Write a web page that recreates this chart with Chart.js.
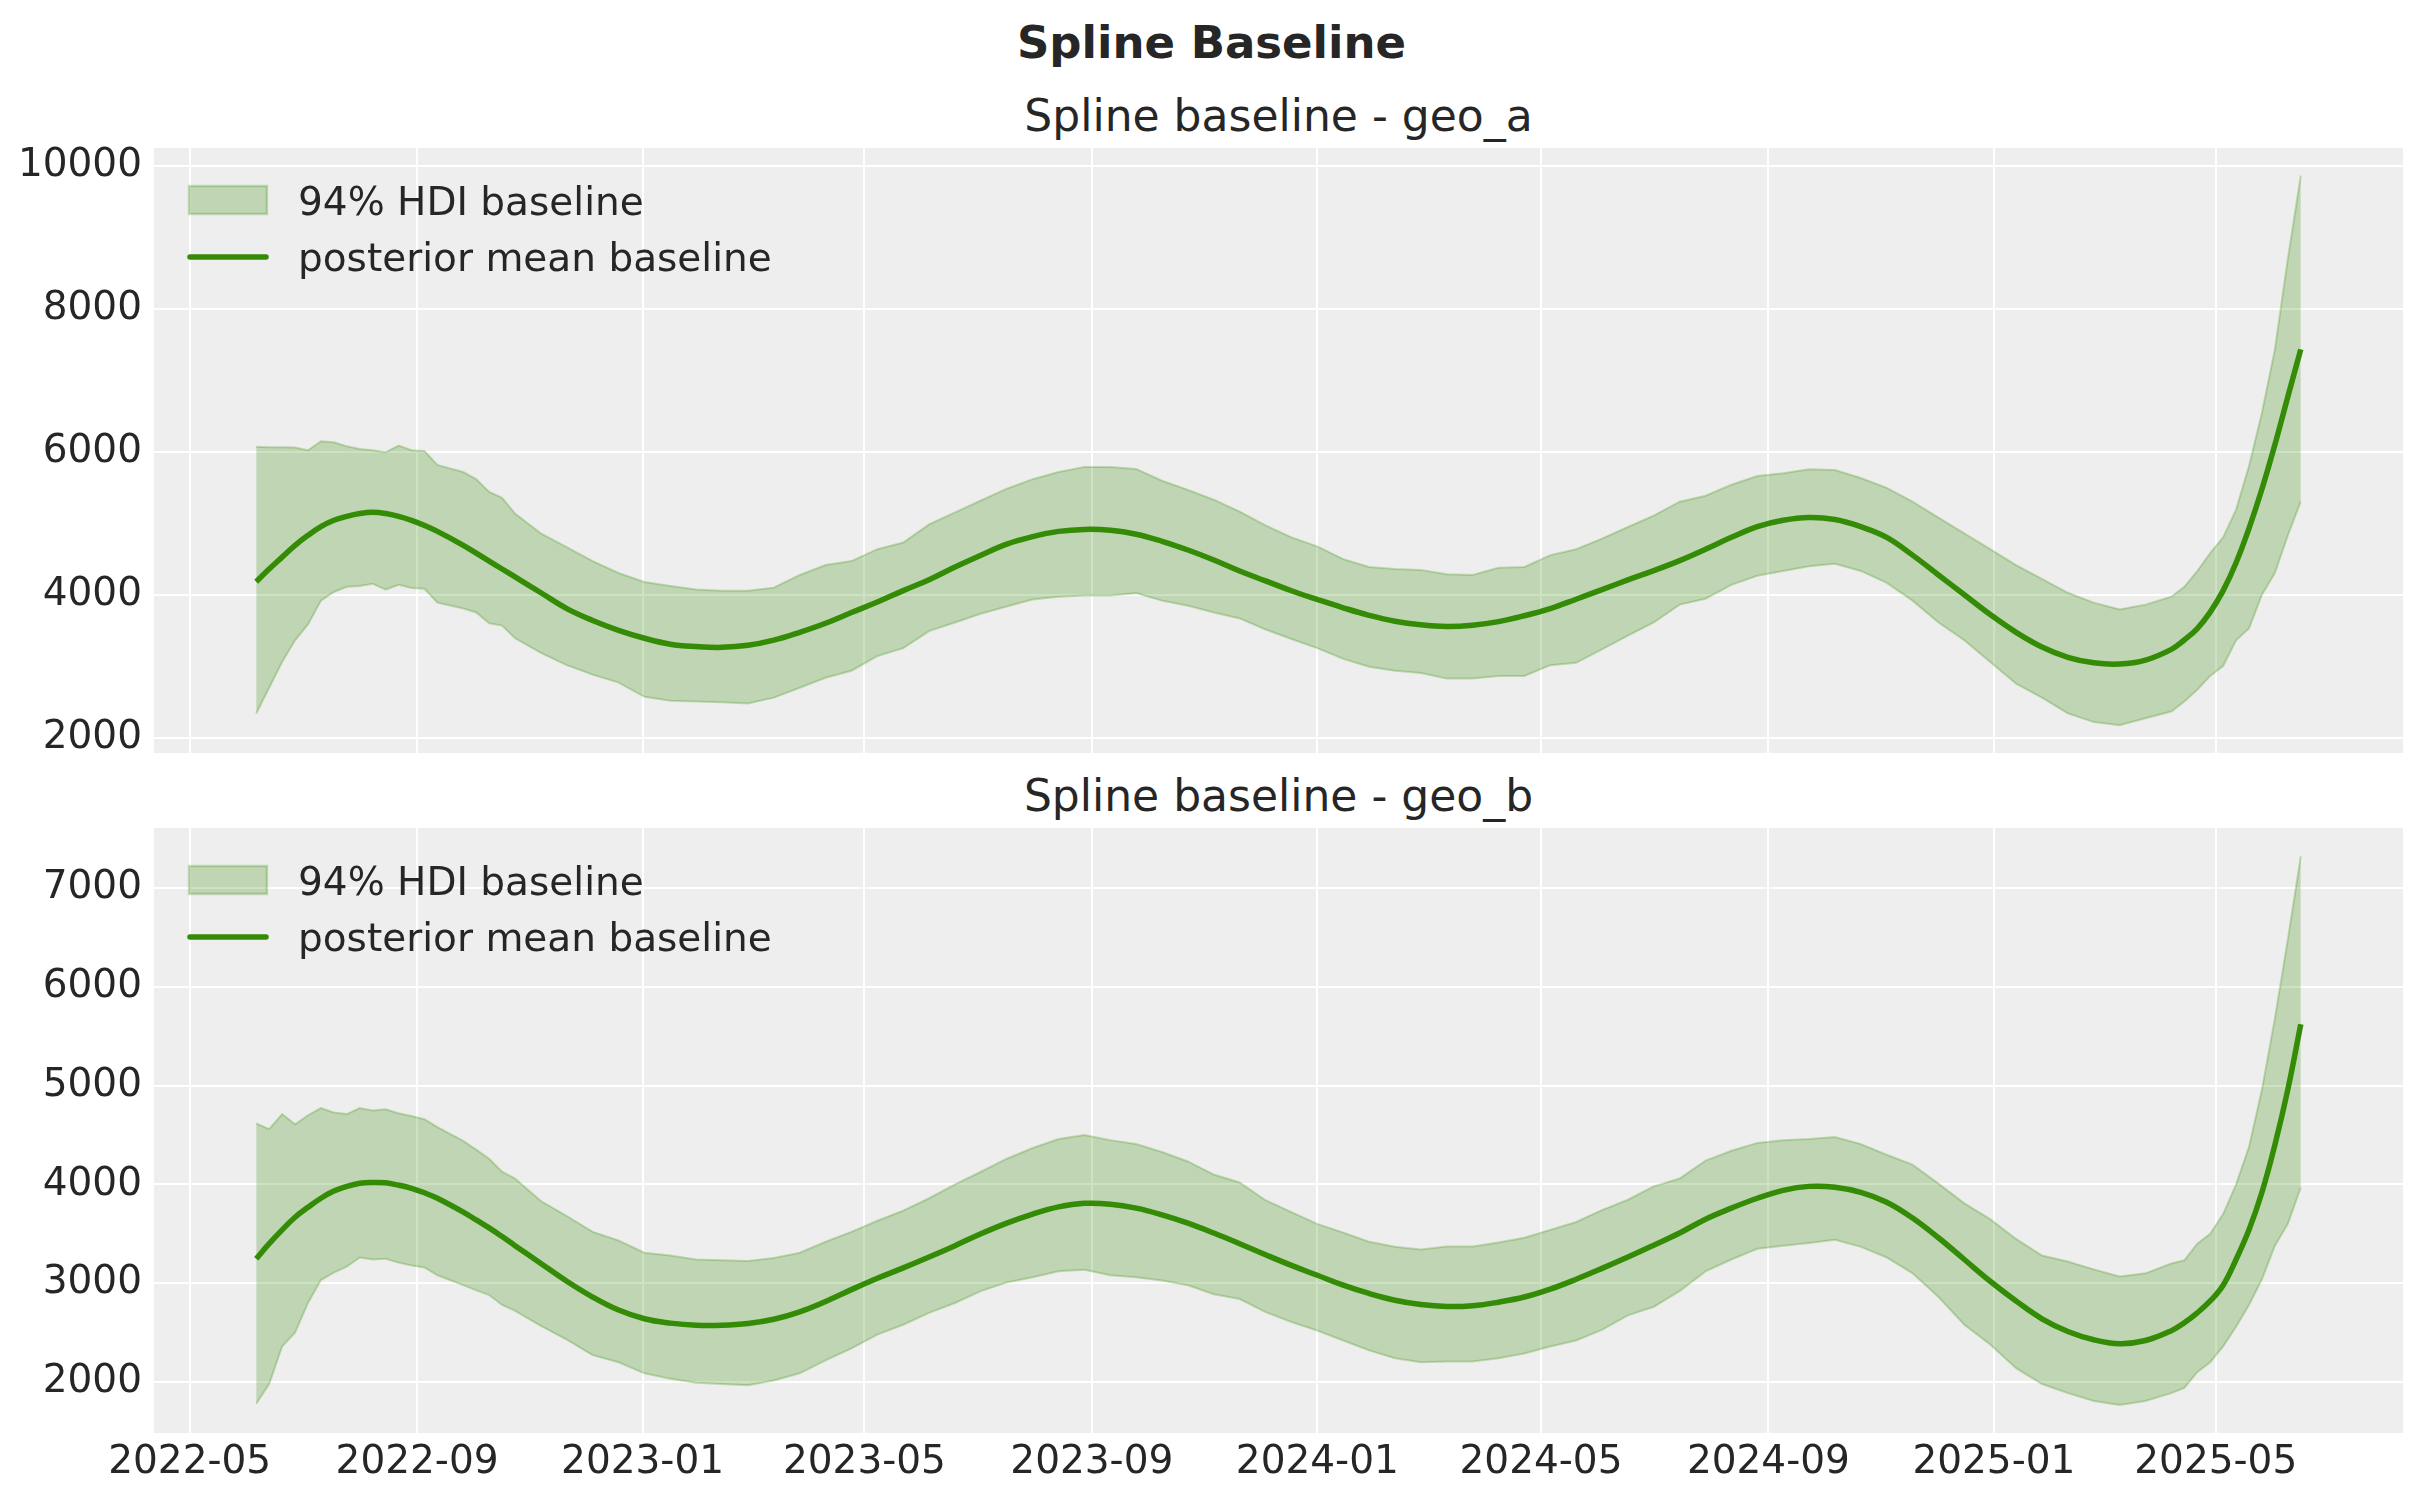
<!DOCTYPE html>
<html lang="en">
<head>
  <meta charset="UTF-8">
  <title>Spline Baseline</title>
  <script src="https://cdn.jsdelivr.net/npm/chart.js@4.4.1/dist/chart.umd.min.js"></script>
  <style>
    html, body { margin: 0; padding: 0; background: #ffffff; overflow: hidden; }
    .figura { position: relative; width: 2423px; height: 1501px; font-family: "DejaVu Sans", sans-serif; color: #262626; }
    .titulo { position: absolute; left: 0; width: 2423px; top: 20px; text-align: center; font-weight: bold; font-size: 45px; line-height: 45px; }
    .subtitulo { position: absolute; left: 154px; width: 2249px; text-align: center; font-size: 44px; line-height: 44px; }
    canvas { position: absolute; left: 0; }
  </style>
</head>
<body>
  <div class="figura">
    <div class="titulo">Spline Baseline</div>
    <div class="subtitulo" style="top: 94px">Spline baseline - geo_a</div>
    <canvas id="graficoA" width="2423" height="620" style="top: 140px"></canvas>
    <div class="subtitulo" style="top: 774px">Spline baseline - geo_b</div>
    <canvas id="graficoB" width="2423" height="681" style="top: 820px"></canvas>
  </div>

<script>
  // semanas desde a primeira data (2022-06-06), dados semanais
  const inicio = '2022-06-06'
  const semanas = [
    0, 1, 2, 3, 4, 5, 6, 7, 8, 9,
    10, 11, 12, 13, 14, 16, 17, 18, 19, 20,
    22, 24, 26, 28, 30, 32, 34, 36, 38, 40,
    42, 44, 46, 48, 50, 52, 54, 56, 58, 60,
    62, 64, 66, 68, 70, 72, 74, 76, 78, 80,
    82, 84, 86, 88, 90, 92, 94, 96, 98, 100,
    102, 104, 106, 108, 110, 112, 114, 116, 118, 120,
    122, 124, 126, 128, 130, 132, 134, 136, 138, 140,
    142, 144, 146, 148, 149, 150, 151, 152, 153, 154,
    155, 156, 157, 158
  ]

  // geo_a
  const geoA_hdiAlto = [
    6072, 6066, 6066, 6061, 6022, 6149, 6133, 6077, 6039, 6022,
    5994, 6089, 6022, 6011, 5817, 5718, 5618, 5441, 5358, 5137,
    4860, 4667, 4473, 4307, 4180, 4124, 4075, 4058, 4058, 4102,
    4279, 4417, 4473, 4639, 4733, 4987, 5153, 5320, 5485, 5618,
    5718, 5790, 5790, 5762, 5596, 5469, 5331, 5165, 4971, 4805,
    4678, 4501, 4390, 4362, 4350, 4290, 4279, 4379, 4390, 4556,
    4639, 4788, 4950, 5109, 5303, 5386, 5541, 5662, 5701, 5757,
    5746, 5635, 5497, 5303, 5082, 4860, 4639, 4417, 4224, 4030,
    3892, 3798, 3864, 3975, 4113, 4334, 4584, 4805, 5192, 5801,
    6548, 7433, 8700, 9862
  ]
  const geoA_media = [
    4185, 4362, 4528, 4694, 4833, 4954, 5043, 5098, 5137, 5154,
    5137, 5098, 5043, 4971, 4888, 4694, 4584, 4473, 4362, 4252,
    4030, 3809, 3643, 3505, 3394, 3311, 3278, 3267, 3295, 3367,
    3477, 3604, 3754, 3900, 4060, 4213, 4390, 4556, 4711, 4816,
    4888, 4916, 4904, 4849, 4750, 4628, 4489, 4335, 4196, 4058,
    3936, 3820, 3715, 3632, 3582, 3560, 3577, 3627, 3709, 3809,
    3940, 4075, 4210, 4340, 4480, 4639, 4805, 4954, 5043, 5082,
    5054, 4954, 4805, 4556, 4279, 4003, 3726, 3477, 3272, 3128,
    3051, 3034, 3089, 3239, 3370, 3530, 3760, 4060, 4450, 4930,
    5480, 6100, 6770, 7433
  ]
  const geoA_hdiBaixo = [
    2343, 2702, 3062, 3366, 3588, 3920, 4041, 4113, 4124, 4157,
    4075, 4141, 4097, 4086, 3892, 3809, 3754, 3604, 3571, 3394,
    3189, 3018, 2885, 2774, 2575, 2520, 2509, 2498, 2481, 2564,
    2702, 2841, 2940, 3145, 3256, 3494, 3615, 3737, 3837, 3936,
    3975, 3992, 3992, 4025, 3920, 3848, 3754, 3671, 3516, 3383,
    3256, 3106, 2996, 2940, 2907, 2830, 2830, 2868, 2868, 3018,
    3051, 3239, 3430, 3615, 3864, 3947, 4141, 4268, 4335, 4401,
    4434, 4335, 4169, 3920, 3615, 3366, 3062, 2758, 2564, 2343,
    2222, 2178, 2277, 2370, 2509, 2675, 2868, 3006, 3366, 3532,
    4003, 4307, 4833, 5303
  ]

  // geo_b
  const geoB_hdiAlto = [
    4616, 4560, 4712, 4608, 4700, 4772, 4728, 4712, 4772, 4748,
    4760, 4720, 4692, 4660, 4580, 4440, 4352, 4260, 4128, 4060,
    3832, 3680, 3520, 3432, 3308, 3280, 3240, 3232, 3224, 3256,
    3308, 3420, 3520, 3632, 3735, 3860, 4000, 4128, 4260, 4368,
    4460, 4500, 4448, 4408, 4328, 4232, 4100, 4020, 3840, 3720,
    3600, 3512, 3420, 3368, 3340, 3372, 3372, 3412, 3460, 3540,
    3620, 3740, 3845, 3980, 4060, 4240, 4340, 4420, 4448, 4460,
    4480, 4408, 4300, 4200, 4008, 3808, 3648, 3448, 3280, 3220,
    3140, 3068, 3100, 3200, 3232, 3400, 3500, 3700, 4000, 4380,
    4960, 5680, 6480, 7320
  ]
  const geoB_media = [
    3248, 3400, 3540, 3668, 3768, 3860, 3932, 3980, 4012, 4020,
    4016, 3992, 3960, 3915, 3860, 3720, 3640, 3560, 3472, 3380,
    3200, 3020, 2860, 2728, 2640, 2596, 2574, 2574, 2592, 2635,
    2710, 2815, 2935, 3050, 3155, 3265, 3380, 3500, 3608, 3700,
    3772, 3808, 3800, 3760, 3692, 3608, 3508, 3400, 3288, 3180,
    3080, 2980, 2896, 2828, 2784, 2764, 2772, 2808, 2860, 2940,
    3040, 3150, 3265, 3385, 3508, 3648, 3760, 3860, 3940, 3980,
    3972, 3920, 3820, 3660, 3460, 3240, 3020, 2820, 2640, 2512,
    2428, 2388, 2420, 2520, 2600, 2700, 2820, 2980, 3240, 3540,
    3920, 4400, 4960, 5620
  ]
  const geoB_hdiBaixo = [
    1780, 1980, 2360, 2500, 2800, 3032, 3108, 3168, 3260, 3240,
    3248, 3208, 3180, 3160, 3080, 2980, 2928, 2880, 2780, 2720,
    2568, 2428, 2272, 2200, 2088, 2032, 1992, 1980, 1968, 2016,
    2088, 2220, 2340, 2480, 2580, 2700, 2800, 2920, 3008, 3060,
    3120, 3136, 3080, 3060, 3028, 2980, 2888, 2840, 2708, 2608,
    2520, 2420, 2320, 2240, 2200, 2208, 2208, 2240, 2288, 2360,
    2420, 2528, 2675, 2760, 2920, 3120, 3240, 3348, 3380, 3408,
    3440, 3368, 3260, 3100, 2860, 2580, 2380, 2140, 1980, 1888,
    1808, 1768, 1808, 1888, 1940, 2100, 2200, 2360, 2560, 2780,
    3040, 3380, 3600, 3968
  ]

  const ticksX = ['2022-05', '2022-09', '2023-01', '2023-05', '2023-09', '2024-01', '2024-05', '2024-09', '2025-01', '2025-05']
  const ticksYA = [2000, 4000, 6000, 8000, 10000]
  const ticksYB = [2000, 3000, 4000, 5000, 6000, 7000]

  const legendaHdi = '94% HDI baseline'
  const legendaMedia = 'posterior mean baseline'

  const corLinha = '#348b05'
  const corFaixa = 'rgba(52, 139, 5, 0.25)'
  const corTexto = '#262626'
  const fonte = '"DejaVu Sans", sans-serif'

  function dia(texto) {
    const p = texto.split('-').map(Number)
    return Date.UTC(p[0], p[1] - 1, p[2] || 1) / 86400000
  }
  const dia0 = dia(inicio)
  const xs = semanas.map(s => dia0 + 7 * s)
  const margemX = (xs[xs.length - 1] - xs[0]) * 0.05

  function pontos(valores) {
    return valores.map((v, i) => ({ x: xs[i], y: v }))
  }

  const fundoPlugin = {
    id: 'fundo',
    beforeDraw(chart) {
      const a = chart.chartArea
      const ctx = chart.ctx
      ctx.save()
      ctx.fillStyle = '#eeeeee'
      ctx.fillRect(a.left, a.top, a.right - a.left, a.bottom - a.top)
      ctx.restore()
    }
  }

  const legendaPlugin = {
    id: 'legenda',
    afterDraw(chart) {
      const a = chart.chartArea
      const ctx = chart.ctx
      ctx.save()
      ctx.fillStyle = corFaixa
      ctx.fillRect(a.left + 35, a.top + 38, 78, 28)
      ctx.strokeStyle = corFaixa
      ctx.lineWidth = 2.5
      ctx.strokeRect(a.left + 35, a.top + 38, 78, 28)
      ctx.strokeStyle = corLinha
      ctx.lineWidth = 5.5
      ctx.lineCap = 'round'
      ctx.beginPath()
      ctx.moveTo(a.left + 36, a.top + 109)
      ctx.lineTo(a.left + 112, a.top + 109)
      ctx.stroke()
      ctx.fillStyle = corTexto
      ctx.font = '39px ' + fonte
      ctx.textBaseline = 'alphabetic'
      ctx.textAlign = 'left'
      ctx.fillText(legendaHdi, a.left + 144, a.top + 67)
      ctx.fillText(legendaMedia, a.left + 144, a.top + 123)
      ctx.restore()
    }
  }

  function criarGrafico(id, baixo, media, alto, ticksY, minY, maxY, mostrarX, padding, alturaX) {
    return new Chart(document.getElementById(id), {
      type: 'line',
      data: {
        datasets: [
          {
            label: legendaMedia,
            data: pontos(media),
            borderColor: corLinha,
            borderWidth: 5.5,
            pointRadius: 0,
            tension: 0.4,
            fill: false,
            order: 0
          },
          {
            label: 'baixo',
            data: pontos(baixo),
            borderColor: corFaixa,
            borderWidth: 2,
            pointRadius: 0,
            tension: 0,
            fill: false,
            order: 2
          },
          {
            label: legendaHdi,
            data: pontos(alto),
            borderColor: corFaixa,
            backgroundColor: corFaixa,
            borderWidth: 2,
            pointRadius: 0,
            tension: 0,
            fill: '-1',
            order: 1
          }
        ]
      },
      options: {
        responsive: false,
        devicePixelRatio: 1,
        animation: false,
        layout: { padding: padding, autoPadding: false },
        plugins: {
          legend: { display: false },
          title: { display: false },
          tooltip: { enabled: false }
        },
        scales: {
          x: {
            type: 'linear',
            min: xs[0] - margemX,
            max: xs[xs.length - 1] + margemX,
            afterBuildTicks(scale) {
              scale.ticks = ticksX.map(t => ({ value: dia(t) }))
            },
            afterFit(scale) {
              scale.height = alturaX
              scale.paddingLeft = 0
              scale.paddingRight = 0
              scale.paddingTop = 0
              scale.paddingBottom = 0
            },
            grid: { color: '#ffffff', lineWidth: 2, drawTicks: false },
            border: { display: false },
            ticks: {
              display: mostrarX,
              padding: 6,
              color: corTexto,
              font: { family: fonte, size: 39 },
              maxRotation: 0,
              callback(v) {
                const i = ticksX.findIndex(t => dia(t) === v)
                return i >= 0 ? ticksX[i] : ''
              }
            }
          },
          y: {
            min: minY,
            max: maxY,
            afterBuildTicks(scale) {
              scale.ticks = ticksY.map(v => ({ value: v }))
            },
            afterFit(scale) {
              scale.width = 154
              scale.paddingLeft = 0
              scale.paddingRight = 0
              scale.paddingTop = 0
              scale.paddingBottom = 0
            },
            grid: { color: '#ffffff', lineWidth: 2, drawTicks: false },
            border: { display: false },
            ticks: {
              padding: 12,
              color: corTexto,
              font: { family: fonte, size: 39 },
              callback(v) { return String(v) }
            }
          }
        }
      },
      plugins: [fundoPlugin, legendaPlugin]
    })
  }

  criarGrafico('graficoA', geoA_hdiBaixo, geoA_media, geoA_hdiAlto, ticksYA, 1790, 10248, false,
    { top: 8, right: 20, bottom: 7, left: 0 }, 0)
  criarGrafico('graficoB', geoB_hdiBaixo, geoB_media, geoB_hdiAlto, ticksYB, 1484, 7607, true,
    { top: 8, right: 20, bottom: 0, left: 0 }, 68)
</script>
</body>
</html>
